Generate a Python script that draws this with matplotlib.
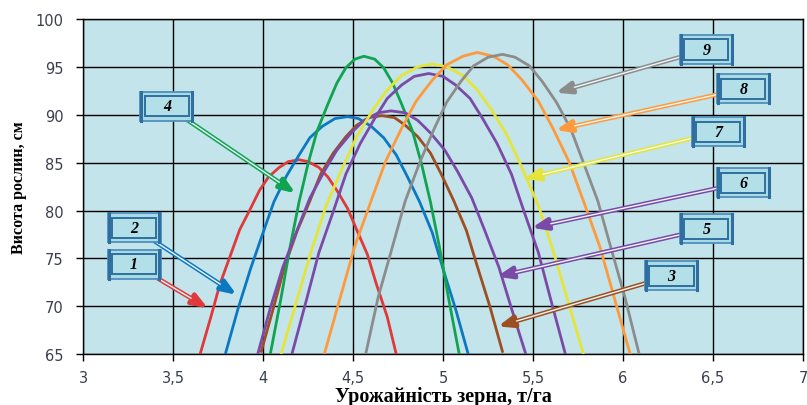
import matplotlib
matplotlib.use('Agg')
import matplotlib.pyplot as plt
import matplotlib.patches as patches

# curve data (yield t/ha vs plant height cm)
x1 = [3.65, 3.71, 3.76, 3.82, 3.87, 3.93, 3.98, 4.03, 4.09, 4.14, 4.20,
      4.25, 4.31, 4.36, 4.41, 4.47, 4.52, 4.58, 4.63, 4.69, 4.74]
y1 = [65.0, 68.9, 72.3, 75.4, 78.0, 80.2, 82.1, 83.5, 84.5, 85.1, 85.3,
      85.1, 84.5, 83.5, 82.1, 80.2, 78.0, 75.4, 72.3, 68.9, 65.0]

x2 = [3.79, 3.86, 3.93, 4.00, 4.06, 4.13, 4.20, 4.26, 4.33, 4.40, 4.47,
      4.53, 4.60, 4.67, 4.74, 4.80, 4.87, 4.94, 5.00, 5.07, 5.14]
y2 = [65.0, 69.7, 73.9, 77.7, 80.9, 83.6, 85.8, 87.6, 88.8, 89.6, 89.8,
      89.6, 88.8, 87.6, 85.8, 83.6, 80.9, 77.7, 73.9, 69.7, 65.0]

x3 = [3.99, 4.06, 4.12, 4.19, 4.26, 4.32, 4.39, 4.46, 4.52, 4.59, 4.66,
      4.73, 4.79, 4.86, 4.93, 4.99, 5.06, 5.13, 5.19, 5.26, 5.33]
y3 = [65.3, 70.0, 74.2, 77.9, 81.0, 83.8, 86.0, 87.7, 88.9, 89.7, 89.9,
      89.7, 88.9, 87.7, 86.0, 83.8, 81.0, 77.9, 74.2, 70.0, 65.3]

x4 = [4.04, 4.10, 4.15, 4.20, 4.25, 4.30, 4.36, 4.41, 4.46, 4.51, 4.56,
      4.62, 4.67, 4.72, 4.77, 4.83, 4.88, 4.93, 4.98, 5.03, 5.09]
y4 = [65.0, 70.9, 76.2, 80.9, 84.9, 88.3, 91.1, 93.3, 94.9, 95.8, 96.1,
      95.8, 94.9, 93.3, 91.1, 88.3, 84.9, 80.9, 76.2, 70.9, 65.0]

x5 = [3.97, 4.04, 4.11, 4.19, 4.26, 4.34, 4.41, 4.49, 4.56, 4.64, 4.71,
      4.79, 4.86, 4.93, 5.01, 5.08, 5.16, 5.23, 5.31, 5.38, 5.46]
y5 = [65.0, 69.8, 74.1, 78.0, 81.3, 84.1, 86.3, 88.1, 89.4, 90.2, 90.4,
      90.2, 89.4, 88.1, 86.3, 84.1, 81.3, 78.0, 74.1, 69.8, 65.0]

x6 = [4.16, 4.24, 4.31, 4.39, 4.46, 4.54, 4.62, 4.69, 4.77, 4.84, 4.92,
      5.00, 5.07, 5.15, 5.22, 5.30, 5.38, 5.45, 5.53, 5.60, 5.68]
y6 = [65.0, 70.6, 75.6, 79.9, 83.8, 87.0, 89.6, 91.7, 93.1, 94.0, 94.3,
      94.0, 93.1, 91.7, 89.6, 87.0, 83.8, 79.9, 75.6, 70.6, 65.0]

x7 = [4.10, 4.19, 4.27, 4.35, 4.44, 4.52, 4.61, 4.69, 4.77, 4.86, 4.94,
      5.02, 5.11, 5.19, 5.27, 5.36, 5.44, 5.53, 5.61, 5.69, 5.78]
y7 = [65.0, 70.8, 75.9, 80.5, 84.4, 87.7, 90.5, 92.6, 94.1, 95.0, 95.3,
      95.0, 94.1, 92.6, 90.5, 87.7, 84.4, 80.5, 75.9, 70.8, 65.0]

x8 = [4.34, 4.43, 4.51, 4.60, 4.68, 4.77, 4.85, 4.94, 5.02, 5.11, 5.19,
      5.28, 5.36, 5.44, 5.53, 5.61, 5.70, 5.78, 5.87, 5.95, 6.04]
y8 = [65.0, 71.0, 76.3, 81.0, 85.1, 88.6, 91.4, 93.6, 95.2, 96.1, 96.5,
      96.1, 95.2, 93.6, 91.4, 88.6, 85.1, 81.0, 76.3, 71.0, 65.0]

x9 = [4.57, 4.64, 4.72, 4.79, 4.87, 4.95, 5.02, 5.10, 5.17, 5.25, 5.33,
      5.40, 5.48, 5.55, 5.63, 5.71, 5.78, 5.86, 5.93, 6.01, 6.09]
y9 = [65.0, 71.0, 76.3, 81.0, 85.0, 88.5, 91.3, 93.5, 95.1, 96.0, 96.3,
      96.0, 95.1, 93.5, 91.3, 88.5, 85.0, 81.0, 76.3, 71.0, 65.0]

labels = ['1', '2', '3', '4', '5', '6', '7', '8', '9']
x_ticks = [3, 3.5, 4, 4.5, 5, 5.5, 6, 6.5, 7]
x_ticklabels = ['3', '3,5', '4', '4,5', '5', '5,5', '6', '6,5', '7']
y_ticks = [65, 70, 75, 80, 85, 90, 95, 100]

colors = ['#e0393b', '#0d78c2', '#9c4f22', '#10a352', '#7b4aa6',
          '#7b4aa6', '#e4e43a', '#ff9a3c', '#8c8c8c']
# label box centre and arrow tip for each curve
callouts = [
    ((3.283, 74.4), (3.693, 69.8)),
    ((3.283, 78.2), (3.853, 71.2)),
    ((6.269, 73.2), (5.305, 67.9)),
    ((3.465, 90.9), (4.180, 81.8)),
    ((6.463, 78.1), (5.299, 73.1)),
    ((6.668, 82.9), (5.493, 78.2)),
    ((6.529, 88.2), (5.449, 83.3)),
    ((6.668, 92.7), (5.626, 88.4)),
    ((6.463, 96.8), (5.626, 92.3)),
]

xs = [x1, x2, x3, x4, x5, x6, x7, x8, x9]
ys = [y1, y2, y3, y4, y5, y6, y7, y8, y9]

bg = '#c3e4ea'
fig = plt.figure(figsize=(8.07, 4.06), dpi=100)
ax = fig.add_axes([0.103, 0.125, 0.892, 0.826])
ax.set_facecolor(bg)
ax.set_xlim(3, 7)
ax.set_ylim(65, 100)

for xv, yv, c in zip(xs, ys, colors):
    ax.plot(xv, yv, color=c, lw=2.0, zorder=3, solid_joinstyle='round')

ax.set_xticks(x_ticks)
ax.set_xticklabels(x_ticklabels)
ax.set_yticks(y_ticks)
ax.grid(True, color='black', lw=1.0, zorder=1)
ax.set_axisbelow(True)
for s in ax.spines.values():
    s.set_color('black')
    s.set_linewidth(1.0)
ax.tick_params(direction='out', length=5, width=1,
               labelsize=10.5, labelcolor='#3b3f4e')
ax.tick_params(axis='x', pad=6)
ax.tick_params(axis='y', pad=9)
for t in ax.get_xticklabels() + ax.get_yticklabels():
    t.set_family('DejaVu Sans')

ax.set_xlabel('Урожайність зерна, т/га', family='Liberation Serif',
              fontweight='bold', fontsize=14.5, labelpad=1)
ax.set_ylabel('Висота рослин, см', family='Liberation Serif',
              fontweight='bold', fontsize=11.5, labelpad=6)

# callout boxes with double-line arrows
bw, bh = 0.294, 3.02
for (lab, c, (bc, tip)) in zip(labels, colors, callouts):
    ax.annotate('', xy=tip, xytext=bc,
                arrowprops=dict(arrowstyle='-|>,head_length=0.9,head_width=0.35',
                                color=c, lw=3.2, shrinkA=0, shrinkB=0),
                zorder=5)
    ax.annotate('', xy=tip, xytext=bc,
                arrowprops=dict(arrowstyle='-', color='#eef8fa', lw=1.0,
                                shrinkA=0, shrinkB=14),
                zorder=5)
    x0, y0 = bc[0] - bw / 2, bc[1] - bh / 2
    ax.add_patch(patches.Rectangle((x0, y0), bw, bh, facecolor='#a9dbe5',
                                   edgecolor='#4f8fbd', lw=1.3, zorder=6))
    ax.add_patch(patches.Rectangle((x0 + 0.024, y0 + 0.45), bw - 0.048, bh - 0.9,
                                   facecolor='#b3e0e8', edgecolor='#2f6f9f',
                                   lw=1.4, zorder=7))
    ax.plot([x0 + 0.006, x0 + 0.006], [y0, y0 + bh], color='#2f6f9f', lw=2.2, zorder=7)
    ax.plot([x0 + bw - 0.006, x0 + bw - 0.006], [y0, y0 + bh], color='#2f6f9f',
            lw=2.2, zorder=7)
    ax.text(bc[0], bc[1], lab, ha='center', va='center', fontsize=11.5,
            family='Liberation Serif', fontweight='bold', style='italic',
            color='black', zorder=8)

fig.savefig('out.png', dpi=100)
